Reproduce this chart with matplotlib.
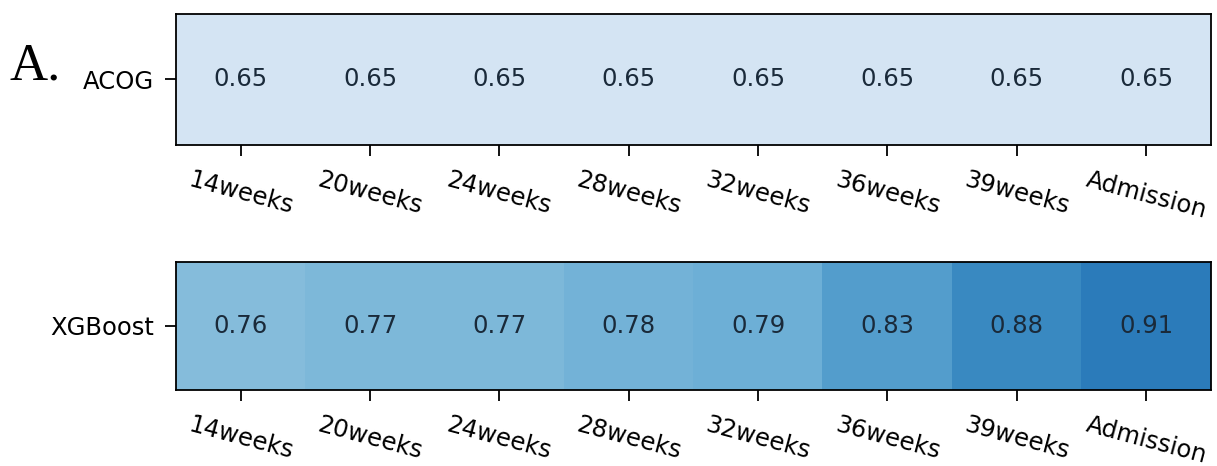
import numpy as np
import matplotlib
matplotlib.use("Agg")
import matplotlib.pyplot as plt
from matplotlib.colors import PowerNorm

times = ['14weeks', '20weeks', '24weeks', '28weeks', '32weeks', '36weeks', '39weeks', 'Admission']
acog = [0.65, 0.65, 0.65, 0.65, 0.65, 0.65, 0.65, 0.65]
xgb = [0.76, 0.77, 0.77, 0.78, 0.79, 0.83, 0.88, 0.91]

fig = plt.figure(figsize=(12.17, 4.66), dpi=100)
ax1 = fig.add_axes([0.1446, 0.689, 0.8504, 0.281])
ax2 = fig.add_axes([0.1446, 0.163, 0.8504, 0.275])

norm = PowerNorm(gamma=0.7, vmin=0.61, vmax=1.1)
for ax, name, vals in [(ax1, 'ACOG', acog), (ax2, 'XGBoost', xgb)]:
    ax.imshow(np.array([vals]), cmap='Blues', norm=norm, aspect='auto')
    for i, v in enumerate(vals):
        ax.text(i, 0, f'{v:.2f}', ha='center', va='center', fontsize=17.5, color='#1a2a3a')
    ax.set_yticks([0])
    ax.set_yticklabels([name], fontsize=17.5)
    ax.set_xticks(range(len(times)))
    ax.set_xticklabels(times, rotation=-15, fontsize=17.5, ha='center')
    ax.tick_params(length=8, width=1.3, pad=8)
    for s in ax.spines.values():
        s.set_linewidth(1.3)

fig.text(0.008, 0.83, 'A.', fontsize=38, family='Liberation Serif')

fig.savefig('out.png', dpi=100)
